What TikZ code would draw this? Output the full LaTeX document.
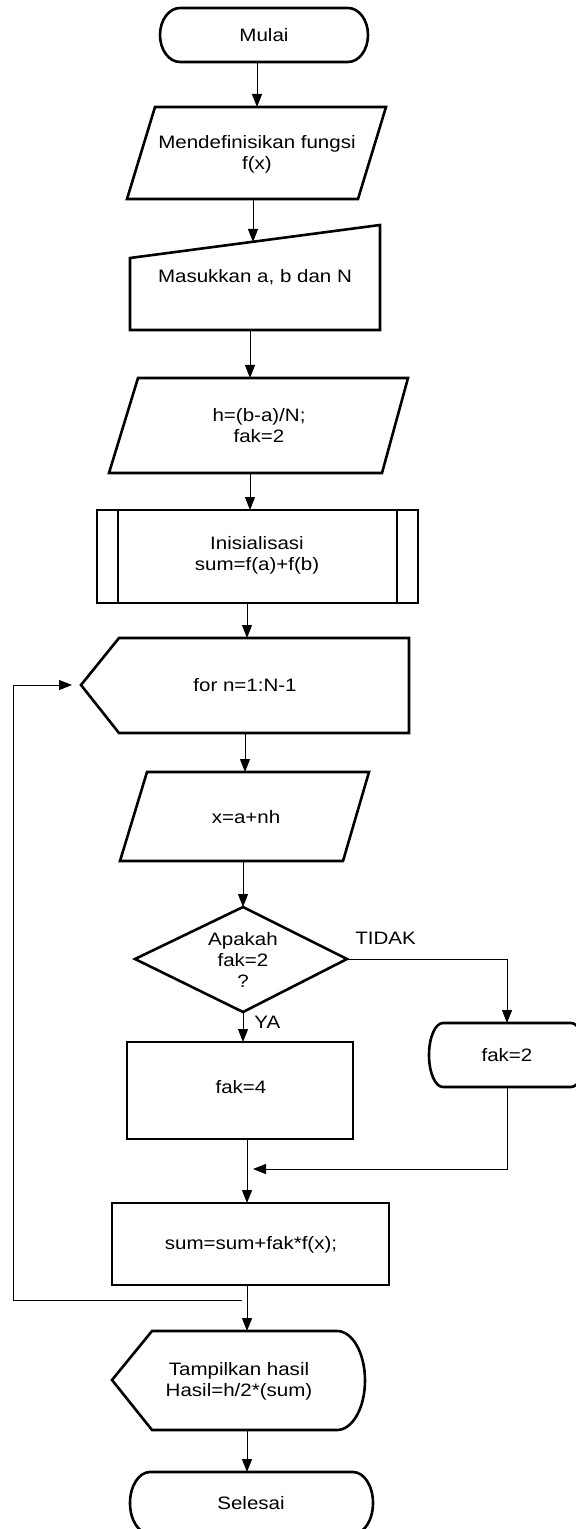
\documentclass[tikz,border=0pt]{standalone}
\usepackage{fontspec}
\setmainfont{Liberation Sans}[FakeStretch=1.14]
\usetikzlibrary{arrows.meta}

\tikzset{
  blok/.style={draw, line width=1.3pt, line join=miter},
  garis/.style={draw, line width=0.5pt},
  panah/.style={garis, -{Triangle[length=6.5pt, width=5pt]}},
  teks/.style={inner sep=0pt, align=center, font=\fontsize{9}{10.5}\selectfont},
}

\begin{document}
\begin{tikzpicture}[x=0.5pt, y=-0.5pt]
  \useasboundingbox (0,0) rectangle (575,1529);

  % terminal mulai
  \draw [blok] (180,8) -- (348,8)
    arc [start angle=90, end angle=-90, x radius=10pt, y radius=13.5pt]
    -- (180,62)
    arc [start angle=270, end angle=90, x radius=10pt, y radius=13.5pt] -- cycle;
  \node [teks] (mulai) at (264,35) {Mulai};

  % definisi fungsi
  \draw [blok] (155,107) -- (386,107) -- (358,199) -- (127,199) -- cycle;
  \node [teks] (fungsi) at (257,154) {Mendefinisikan fungsi\\f(x)};

  % input manual
  \draw [blok] (130,258) -- (380,225) -- (380,330) -- (130,330) -- cycle;
  \node [teks] (input) at (255,277) {Masukkan a, b dan N};

  % langkah h
  \draw [blok] (138,378) -- (408,378) -- (382,473) -- (109,473) -- cycle;
  \node [teks] (langkah) at (259,426) {h=(b-a)/N;\\fak=2};

  % proses terdefinisi
  \draw [blok] (97,510) rectangle (418,603);
  \draw [blok] (118,510) -- (118,603);
  \draw [blok] (397,510) -- (397,603);
  \node [teks] (inisial) at (257,555) {Inisialisasi\\sum=f(a)+f(b)};

  % persiapan loop
  \draw [blok] (81,685) -- (119,638) -- (409,638) -- (409,733) -- (119,733) -- cycle;
  \node [teks] (loop) at (245,685) {for n=1:N-1};

  % nilai x
  \draw [blok] (147,772) -- (369,772) -- (343,861) -- (120,861) -- cycle;
  \node [teks] (nilaix) at (246,817) {x=a+nh};

  % keputusan
  \draw [blok] (243,907) -- (347,959) -- (243,1012) -- (135,959) -- cycle;
  \node [teks] (cek) at (243,960) {Apakah\\fak=2\\?};

  % cabang ya
  \draw [blok] (127,1042) rectangle (353,1139);
  \node [teks] (fak4) at (241,1087) {fak=4};

  % cabang tidak
  \draw [blok] (443,1023) -- (571,1023)
    arc [start angle=90, end angle=-90, x radius=7pt, y radius=16pt]
    -- (443,1087)
    arc [start angle=270, end angle=90, x radius=7pt, y radius=16pt] -- cycle;
  \node [teks] (fak2) at (507,1055) {fak=2};

  % jumlah
  \draw [blok] (112,1203) rectangle (389,1285);
  \node [teks] (jumlah) at (251,1245) {sum=sum+fak*f(x);};

  % tampilan
  \draw [blok] (112,1380) -- (152,1331) -- (337,1331)
    arc [start angle=90, end angle=-90, x radius=14pt, y radius=24.75pt]
    -- (152,1430) -- cycle;
  \node [teks] (hasil) at (239,1381) {Tampilkan hasil\\Hasil=h/2*(sum)};

  % terminal selesai
  \draw [blok] (150,1472) -- (353,1472)
    arc [start angle=90, end angle=-90, x radius=10pt, y radius=15.5pt]
    -- (150,1534)
    arc [start angle=270, end angle=90, x radius=10pt, y radius=15.5pt] -- cycle;
  \node [teks] (selesai) at (251,1503) {Selesai};

  % titik sambung
  \coordinate (mulai-b) at (257,62);    \coordinate (fungsi-t) at (257,107);
  \coordinate (fungsi-b) at (253,199);  \coordinate (input-t) at (253,242);
  \coordinate (input-b) at (250,330);   \coordinate (langkah-t) at (250,378);
  \coordinate (langkah-b) at (250,473); \coordinate (inisial-t) at (250,510);
  \coordinate (inisial-b) at (247,603); \coordinate (loop-t) at (247,638);
  \coordinate (loop-b) at (245,733);    \coordinate (nilaix-t) at (245,772);
  \coordinate (nilaix-b) at (243,861);  \coordinate (cek-t) at (243,907);
  \coordinate (cek-b) at (243,1012);    \coordinate (fak4-t) at (243,1042);
  \coordinate (fak4-b) at (247,1139);   \coordinate (jumlah-t) at (247,1203);
  \coordinate (jumlah-b) at (247,1285); \coordinate (hasil-t) at (247,1331);
  \coordinate (hasil-b) at (247,1430);  \coordinate (selesai-t) at (247,1472);
  \coordinate (cek-r) at (347,959);     \coordinate (fak2-t) at (507,1023);
  \coordinate (fak2-b) at (507,1087);   \coordinate (gabung) at (253,1169);
  \coordinate (balik) at (242,1300);    \coordinate (loop-l) at (72,685);

  % alur utama
  \foreach \a/\b in {mulai-b/fungsi-t, fungsi-b/input-t, input-b/langkah-t,
    langkah-b/inisial-t, inisial-b/loop-t, loop-b/nilaix-t, nilaix-b/cek-t,
    cek-b/fak4-t, fak4-b/jumlah-t, jumlah-b/hasil-t, hasil-b/selesai-t} {
    \draw [panah] (\a) -- (\b);
  }

  % cabang dan loop kembali
  \draw [panah] (cek-r) -| (fak2-t);
  \draw [panah] (fak2-b) |- (gabung);
  \draw [panah] (balik) -- (13,1300) |- (loop-l);

  % label cabang
  \node [teks, anchor=west] (tidak) at (355,938) {TIDAK};
  \node [teks, anchor=west] (ya) at (254,1022) {YA};
\end{tikzpicture}
\end{document}
